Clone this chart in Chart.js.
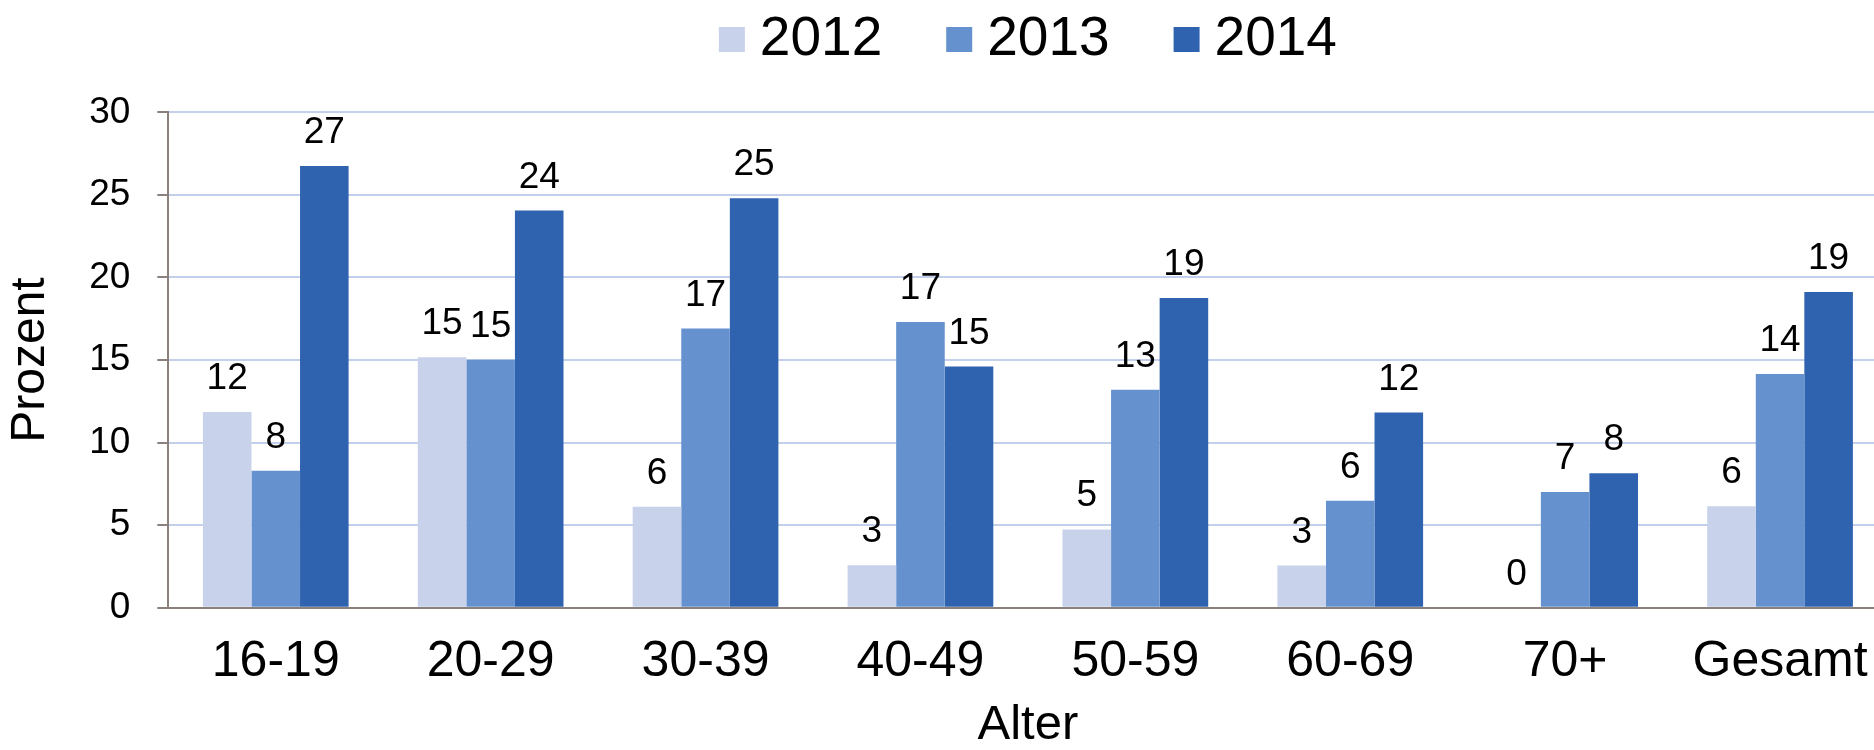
<!DOCTYPE html>
<html lang="de">
<head>
<meta charset="utf-8">
<title>Anteil nach Altersgruppe 2012–2014</title>
<script src="https://cdn.jsdelivr.net/npm/chart.js@4.4.1/dist/chart.umd.min.js"></script>
<style>
  html, body { margin: 0; padding: 0; background: #ffffff; overflow: hidden; }
  #wrap { width: 1874px; height: 750px; overflow: hidden; position: relative; }
  canvas { display: block; }
</style>
</head>
<body>
<div id="wrap"><canvas id="chart" width="1900" height="750"></canvas></div>
<script>
// Altersgruppen (x-Achse)
const categories = ['16-19', '20-29', '30-39', '40-49', '50-59', '60-69', '70+', 'Gesamt'];

// Anteile in Prozent je Jahr
const values2012 = [11.85, 15.17, 6.12, 2.57, 4.74, 2.55, 0, 6.15];
const values2013 = [8.29, 15.02, 16.9, 17.3, 13.2, 6.47, 7.0, 14.15];
const values2014 = [26.75, 24.05, 24.79, 14.6, 18.76, 11.82, 8.14, 19.12];

const seriesLabels = ['2012', '2013', '2014'];
const seriesColors = ['#C8D2EB', '#6592CE', '#2F63AF'];

// y-Achse
const yTicks = [0, 5, 10, 15, 20, 25, 30];

const FONT = '"Liberation Sans", Arial, Helvetica, sans-serif';
const AXIS_COLOR = '#8A817C';
const GRID_COLOR = '#C3D0EC';

// Wert über jedem Balken (gerundet)
const valueLabels = {
  id: 'valueLabels',
  afterDatasetsDraw(chart) {
    const ctx = chart.ctx;
    ctx.save();
    ctx.font = '37px ' + FONT;
    ctx.fillStyle = '#000000';
    ctx.textAlign = 'center';
    ctx.textBaseline = 'alphabetic';
    chart.data.datasets.forEach((ds, i) => {
      const meta = chart.getDatasetMeta(i);
      meta.data.forEach((bar, j) => {
        const v = ds.data[j];
        ctx.fillText(String(Math.round(v)), bar.x, bar.y - 23);
      });
    });
    ctx.restore();
  }
};

// Legende oben, über dem Diagrammbereich zentriert
const topLegend = {
  id: 'topLegend',
  afterDraw(chart) {
    const ctx = chart.ctx;
    const area = chart.chartArea;
    const box = 26, boxH = 25, gap = 15, itemGap = 64;
    ctx.save();
    ctx.font = '55px ' + FONT;
    ctx.textBaseline = 'alphabetic';
    ctx.textAlign = 'left';
    const items = chart.data.datasets.map(ds => ({
      text: ds.label, color: ds.backgroundColor, w: ctx.measureText(ds.label).width
    }));
    const total = items.reduce((s, it) => s + box + gap + it.w, 0) + itemGap * (items.length - 1);
    let x = (area.left + area.right) / 2 - total / 2;
    const baseline = 55;
    items.forEach(it => {
      ctx.fillStyle = it.color;
      ctx.fillRect(x, 27, box, boxH);
      ctx.fillStyle = '#000000';
      ctx.fillText(it.text, x + box + gap, baseline);
      x += box + gap + it.w + itemGap;
    });
    ctx.restore();
  }
};

new Chart(document.getElementById('chart'), {
  type: 'bar',
  data: {
    labels: categories,
    datasets: [
      { label: seriesLabels[0], data: values2012, backgroundColor: seriesColors[0] },
      { label: seriesLabels[1], data: values2013, backgroundColor: seriesColors[1] },
      { label: seriesLabels[2], data: values2014, backgroundColor: seriesColors[2] }
    ]
  },
  options: {
    responsive: false,
    animation: false,
    devicePixelRatio: 1,
    layout: { padding: { top: 112.3, right: 12.5, left: 0, bottom: 0 } },
    datasets: {
      bar: { categoryPercentage: 0.678, barPercentage: 1.0, borderWidth: 0 }
    },
    plugins: {
      legend: { display: false },
      tooltip: { enabled: false },
      title: { display: false }
    },
    scales: {
      x: {
        grid: { display: false, drawTicks: false },
        border: { display: true, color: AXIS_COLOR, width: 2 },
        ticks: {
          color: '#000000',
          font: { family: FONT, size: 50 },
          padding: 25,
          maxRotation: 0,
          autoSkip: false
        },
        title: {
          display: true,
          text: 'Alter',
          color: '#000000',
          font: { family: FONT, size: 49, lineHeight: 1.0 },
          padding: { top: 0, bottom: 0 }
        },
        afterFit(scale) { scale.height = 142.3; }
      },
      y: {
        min: yTicks[0],
        max: yTicks[yTicks.length - 1],
        afterBuildTicks(scale) { scale.ticks = yTicks.map(v => ({ value: v })); },
        grid: {
          color: GRID_COLOR,
          lineWidth: 2,
          drawTicks: true,
          tickLength: 11,
          tickColor: AXIS_COLOR,
          tickWidth: 2
        },
        border: { display: true, color: AXIS_COLOR, width: 2 },
        ticks: {
          color: '#000000',
          font: { family: FONT, size: 37 },
          padding: 27
        },
        title: {
          display: true,
          text: 'Prozent',
          color: '#000000',
          font: { family: FONT, size: 48, lineHeight: 1.2 },
          padding: { top: 2, bottom: 0 }
        },
        afterFit(scale) { scale.width = 168.3; }
      }
    }
  },
  plugins: [valueLabels, topLegend]
});
</script>
</body>
</html>
